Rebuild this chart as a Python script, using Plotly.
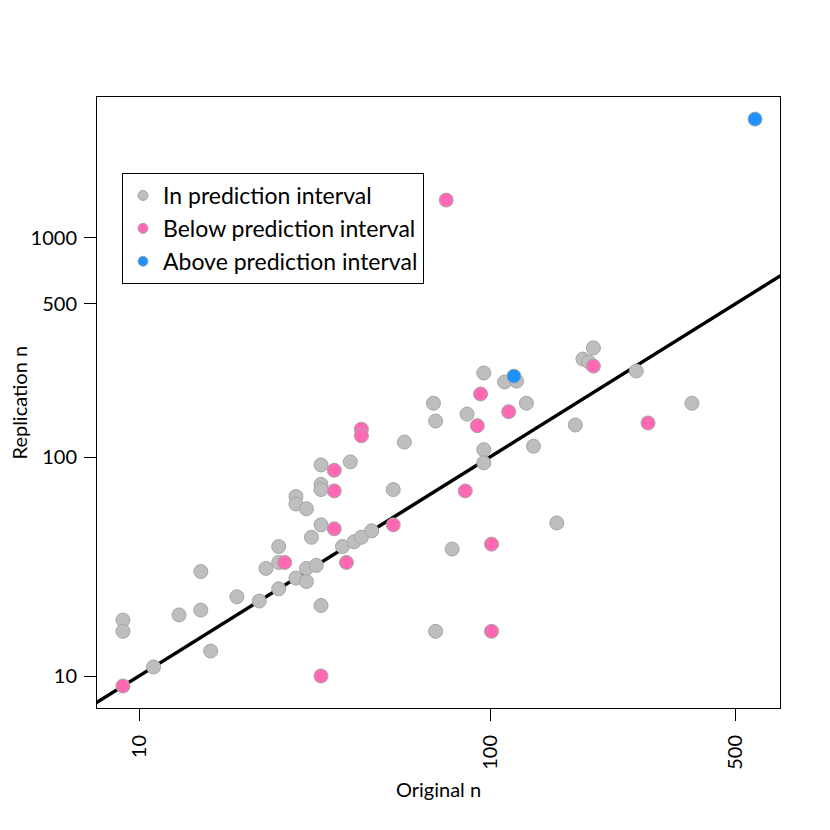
import plotly.graph_objects as go

# values (log-log scatter, original vs replication n)
in_original = [9, 9, 11, 13, 15, 15, 16, 19, 22, 23, 25, 25, 25, 28, 28, 30, 31, 30, 28,
               30, 32, 33, 33, 33, 33, 33, 38, 41, 43, 46, 40, 53, 57, 69, 70, 70, 78,
               86, 96, 96, 96, 110, 119, 127, 133, 155, 175, 184, 197, 191, 261, 376]
in_replication = [18, 16, 11, 19, 20, 30, 13, 23, 22, 31, 39, 33, 25, 66, 61, 58, 43, 31, 28,
                  27, 32, 92, 75, 71, 49, 21, 39, 41, 43, 46, 95, 71, 117, 176, 146, 16, 38,
                  157, 242, 108, 94, 220, 222, 176, 112, 50, 140, 280, 315, 272, 247, 176]

below_original = [9, 26, 33, 36, 36, 36, 39, 43, 43, 53, 75, 85, 92, 94, 101, 101, 113, 197, 282]
below_replication = [9, 33, 10, 87, 70, 47, 33, 134, 125, 49, 1490, 70, 139, 194, 40, 16, 161, 260, 143]

above_original = [117, 569]
above_replication = [234, 3490]

# reference line y = x
line_x = [5, 800]
line_y = line_x

groups = [
    ("In prediction interval", in_original, in_replication, "#BEBEBE"),
    ("Below prediction interval", below_original, below_replication, "#FF69B4"),
    ("Above prediction interval", above_original, above_replication, "#1E90FF"),
]

#%%

fig = go.Figure()
fig.add_trace(go.Scatter(
    x=line_x, y=line_y, mode="lines",
    line=dict(color="black", width=3.5), showlegend=False, hoverinfo="skip",
))

for name, xs, ys, colour in groups:
    fig.add_trace(go.Scatter(
        x=xs, y=ys, mode="markers", name=name, showlegend=False,
        marker=dict(size=14, color=colour, line=dict(color="#A6A6A6", width=1)),
    ))
    # legend-only entry with the smaller R-style legend symbol
    fig.add_trace(go.Scatter(
        x=[None], y=[None], mode="markers", name=name,
        marker=dict(size=10, color=colour, line=dict(color="#A6A6A6", width=1)),
    ))

axis_style = dict(
    type="log",
    automargin=False,
    showgrid=False,
    zeroline=False,
    showline=True,
    mirror=True,
    linecolor="black",
    linewidth=1,
    ticks="outside",
    ticklen=12,
    tickwidth=1,
    tickcolor="black",
    tickfont=dict(family="Lato", size=20, color="black"),
)

fig.update_xaxes(
    axis_style,
    range=[0.8803, 2.8262],
    tickvals=[10, 100, 500],
    ticktext=["10", "100", "500"],
    tickangle=-90,
    ticklabelstandoff=6,
    title=dict(text="Original n", font=dict(family="Lato", size=20, color="black"), standoff=14),
)
fig.update_yaxes(
    axis_style,
    range=[0.8539, 3.6438],
    tickvals=[10, 100, 500, 1000],
    ticktext=["10", "100", "500", "1000"],
    ticklabelstandoff=3,
)

# y title placed by hand, like R's mtext, so it sits clear of the tick labels
fig.add_annotation(
    text="Replication n", textangle=-90,
    xref="paper", yref="paper", x=0, y=0.5,
    xanchor="center", yanchor="middle", xshift=-79, showarrow=False,
    font=dict(family="Lato", size=20, color="black"),
)

# the page body adds an 8 px offset, so margins are trimmed to keep the frame at 97..780 / 97..708
fig.update_layout(
    width=830,
    height=830,
    margin=dict(l=89, r=58, t=89, b=130),
    plot_bgcolor="white",
    paper_bgcolor="white",
    legend=dict(
        x=0.0366,
        y=0.8756,
        xanchor="left",
        yanchor="top",
        bordercolor="black",
        borderwidth=1,
        bgcolor="white",
        font=dict(family="Lato", size=23, color="black"),
        itemwidth=30,
    ),
)

fig.write_html("out.html")
